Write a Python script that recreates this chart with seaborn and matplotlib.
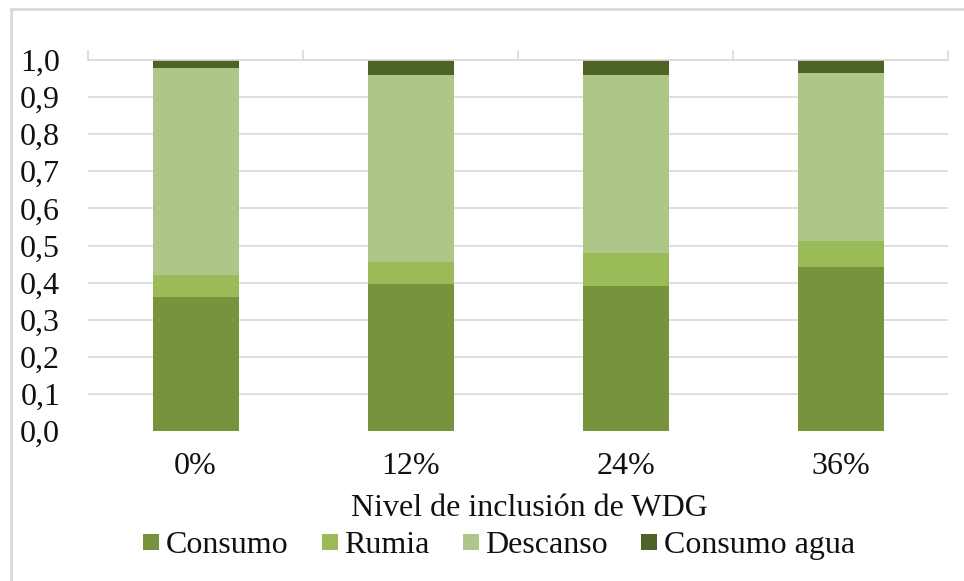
import matplotlib
matplotlib.use("Agg")
import matplotlib.pyplot as plt
from matplotlib.patches import Rectangle
from matplotlib.lines import Line2D
from matplotlib.ticker import FuncFormatter, FixedLocator
import numpy as np
import pandas as pd
import seaborn as sns

# Proportion of time spent in each activity per WDG inclusion level
niveles = ["0%", "12%", "24%", "36%"]
consumo = [0.362, 0.397, 0.390, 0.442]
rumia = [0.059, 0.058, 0.091, 0.069]
descanso = [0.557, 0.505, 0.479, 0.453]
consumo_agua = [0.022, 0.040, 0.040, 0.036]

actividades = ["Consumo", "Rumia", "Descanso", "Consumo agua"]
colores = ["#77933C", "#9BBB59", "#AEC687", "#4F6228"]

sns.set_theme(style="white")
plt.rcParams["font.family"] = ["Liberation Serif", "DejaVu Serif"]

df = pd.DataFrame({
    "Nivel": niveles,
    "Consumo": consumo,
    "Rumia": rumia,
    "Descanso": descanso,
    "Consumo agua": consumo_agua,
})
# cumulative heights for stacking
cum = df[actividades].cumsum(axis=1)
cum["Nivel"] = df["Nivel"]

fig = plt.figure(figsize=(9.64, 5.81), dpi=100)
ax = fig.add_axes([88 / 964, 1 - 431 / 581, 860 / 964, 371 / 581])

# draw from the top segment down so each layer covers the ones above
for act, col in reversed(list(zip(actividades, colores))):
    sns.barplot(data=cum, x="Nivel", y=act, color=col, width=0.4,
                linewidth=0, saturation=1, ax=ax, order=niveles)

ax.set_xlim(-0.5, len(niveles) - 0.5)
ax.set_ylim(0, 1.0)
ax.set_yticks(np.arange(0, 1.01, 0.1))
ax.yaxis.set_major_formatter(FuncFormatter(lambda v, p: f"{v:.1f}".replace(".", ",")))

grid_c = "#D9D9D9"
ax.yaxis.grid(True, color=grid_c, linewidth=1.2)
ax.set_axisbelow(True)
ax.get_ygridlines()[0].set_visible(False)

for s in ["left", "right", "bottom"]:
    ax.spines[s].set_visible(False)
ax.spines["top"].set_color(grid_c)
ax.spines["top"].set_linewidth(1.2)

# category boundary ticks on the top edge
ax.xaxis.set_minor_locator(FixedLocator(np.arange(-0.5, len(niveles), 1.0)))
ax.tick_params(axis="x", which="minor", top=True, bottom=False, direction="out",
               length=7, width=1.2, color=grid_c)
ax.tick_params(axis="x", which="major", length=0, pad=15, labelsize=23,
               labelcolor="#111111")
ax.tick_params(axis="y", length=0, pad=20, labelsize=23, labelcolor="#111111")

ax.set_ylabel("")
ax.set_xlabel("Nivel de inclusión de WDG", fontsize=23, color="#111111", va="center")
ax.xaxis.set_label_coords((529 - 88) / 860, (431 - 508) / 371)

handles = [Line2D([], [], linestyle="none", marker="s", markersize=11.5,
                  markerfacecolor=c, markeredgewidth=0) for c in colores]
fig.legend(handles, actividades, loc="center", ncol=4,
           bbox_to_anchor=(499 / 964, 1 - 545 / 581), frameon=False,
           fontsize=23, handlelength=0.5, handletextpad=0.2,
           columnspacing=1.05, borderpad=0, labelcolor="#111111")

# outer chart frame
fig.add_artist(Rectangle((11 / 964, -0.1), 1.2, 1 - 9 / 581 + 0.1,
                         transform=fig.transFigure, fill=False,
                         edgecolor=grid_c, linewidth=2))

fig.savefig("out.png", dpi=100)
